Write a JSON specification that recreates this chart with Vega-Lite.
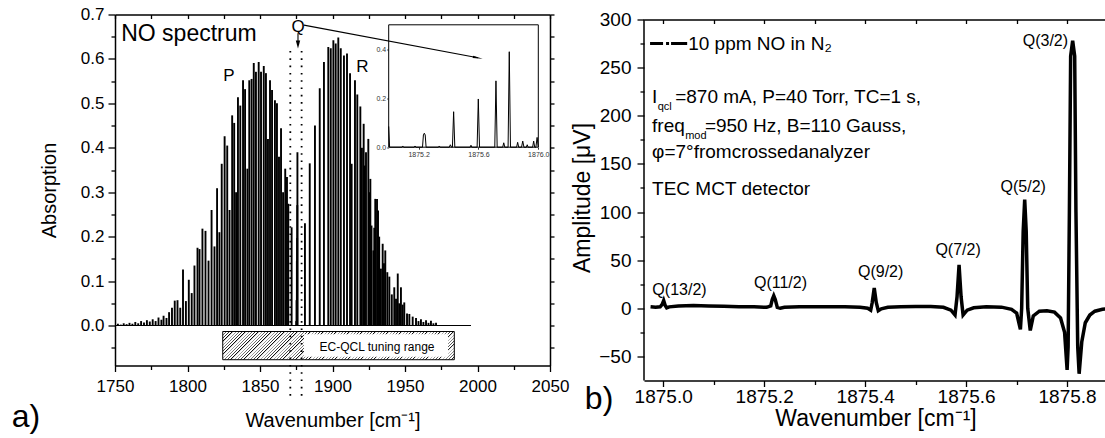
{
"$schema": "https://vega.github.io/schema/vega-lite/v6.json",
"padding": {"left": 11, "top": 5.5, "right": 0, "bottom": 0},
"spacing": 2,
"config": {
  "font": "Liberation Sans",
  "view": {"stroke": null},
  "axis": {"grid": false, "labelFlush": false, "domainColor": "#000", "tickColor": "#000", "labelColor": "#000", "titleColor": "#000", "domainWidth": 1.5, "tickWidth": 1.3, "labelFont": "Liberation Sans", "titleFont": "Liberation Sans", "titleFontWeight": "normal"}
},
"datasets": {
  "spectrum": [
    {"wn":1752,"abs":0.004},{"wn":1754,"abs":0.002},{"wn":1756,"abs":0.005},{"wn":1758,"abs":0.003},{"wn":1760,"abs":0.006},{"wn":1762,"abs":0.004},{"wn":1764,"abs":0.008},{"wn":1766,"abs":0.005},{"wn":1768,"abs":0.010},{"wn":1770,"abs":0.007},{"wn":1772,"abs":0.012},{"wn":1774,"abs":0.009},{"wn":1776,"abs":0.014},{"wn":1778,"abs":0.010},{"wn":1780,"abs":0.018},{"wn":1782,"abs":0.013},{"wn":1783.5,"abs":0.022},{"wn":1785.5,"abs":0.017},{"wn":1787.3,"abs":0.030},{"wn":1789.3,"abs":0.040},{"wn":1791.2,"abs":0.056},{"wn":1793.1,"abs":0.057},{"wn":1795.0,"abs":0.040},{"wn":1796.9,"abs":0.126},{"wn":1798.9,"abs":0.055},{"wn":1800.9,"abs":0.103},{"wn":1802.9,"abs":0.073},{"wn":1804.8,"abs":0.135},{"wn":1806.9,"abs":0.175},{"wn":1808.3,"abs":0.172},{"wn":1810.3,"abs":0.218},{"wn":1812.4,"abs":0.213},{"wn":1814.5,"abs":0.146},{"wn":1816.6,"abs":0.260},{"wn":1818.6,"abs":0.178},{"wn":1820.4,"abs":0.309},{"wn":1822.0,"abs":0.210},{"wn":1823.6,"abs":0.364},{"wn":1825.6,"abs":0.426},{"wn":1827.4,"abs":0.405},{"wn":1829.0,"abs":0.260},{"wn":1830.8,"abs":0.473},{"wn":1832.2,"abs":0.456},{"wn":1833.5,"abs":0.300},{"wn":1834.8,"abs":0.514},{"wn":1836.4,"abs":0.495},{"wn":1838.3,"abs":0.552},{"wn":1839.7,"abs":0.532},{"wn":1841.3,"abs":0.353},{"wn":1842.6,"abs":0.552},{"wn":1844.2,"abs":0.555},{"wn":1845.7,"abs":0.591},{"wn":1847.2,"abs":0.571},{"wn":1849.1,"abs":0.593},{"wn":1850.7,"abs":0.571},{"wn":1852.6,"abs":0.584},{"wn":1854.1,"abs":0.568},{"wn":1855.5,"abs":0.420},{"wn":1856.9,"abs":0.552},{"wn":1858.3,"abs":0.530},{"wn":1860.3,"abs":0.507},{"wn":1861.7,"abs":0.500},{"wn":1863.1,"abs":0.380},{"wn":1864.5,"abs":0.444},{"wn":1865.9,"abs":0.300},{"wn":1867.4,"abs":0.353},{"wn":1868.6,"abs":0.334},{"wn":1869.5,"abs":0.274},{"wn":1871.8,"abs":0.221},
    {"wn":1875.0,"abs":0.010},{"wn":1875.22,"abs":0.057},{"wn":1875.43,"abs":0.145},{"wn":1875.6,"abs":0.197},{"wn":1875.72,"abs":0.271},{"wn":1875.81,"abs":0.390},
    {"wn":1881.0,"abs":0.230},{"wn":1884.3,"abs":0.365},{"wn":1887.9,"abs":0.450},{"wn":1891.2,"abs":0.534},{"wn":1894.1,"abs":0.593},{"wn":1897.1,"abs":0.627},{"wn":1898.8,"abs":0.624},{"wn":1900.6,"abs":0.642},{"wn":1902.2,"abs":0.635},{"wn":1904.0,"abs":0.648},{"wn":1905.7,"abs":0.624},{"wn":1907.9,"abs":0.608},{"wn":1910.0,"abs":0.612},{"wn":1912.1,"abs":0.568},{"wn":1913.2,"abs":0.364},{"wn":1915.5,"abs":0.552},{"wn":1917.1,"abs":0.520},{"wn":1919.2,"abs":0.493},{"wn":1920.3,"abs":0.400},{"wn":1921.5,"abs":0.454},{"wn":1922.3,"abs":0.360},{"wn":1923.1,"abs":0.390},{"wn":1924.7,"abs":0.420},{"wn":1925.4,"abs":0.300},{"wn":1926.1,"abs":0.330},{"wn":1926.9,"abs":0.225},{"wn":1928.2,"abs":0.169},{"wn":1928.8,"abs":0.220},{"wn":1929.5,"abs":0.285},{"wn":1930.7,"abs":0.285},{"wn":1931.4,"abs":0.259},{"wn":1932.2,"abs":0.200},{"wn":1933.4,"abs":0.128},{"wn":1934.6,"abs":0.184},{"wn":1935.5,"abs":0.140},{"wn":1936.4,"abs":0.169},{"wn":1937.8,"abs":0.120},{"wn":1939.2,"abs":0.110},{"wn":1940.9,"abs":0.070},{"wn":1942.6,"abs":0.086},{"wn":1943.8,"abs":0.060},{"wn":1945.0,"abs":0.117},{"wn":1946.0,"abs":0.050},{"wn":1947.2,"abs":0.086},{"wn":1948.4,"abs":0.047},{"wn":1949.5,"abs":0.052},{"wn":1951.4,"abs":0.027},{"wn":1953.0,"abs":0.026},{"wn":1955.3,"abs":0.020},{"wn":1957.6,"abs":0.017},{"wn":1959.3,"abs":0.010},{"wn":1961.0,"abs":0.014},{"wn":1962.7,"abs":0.008},{"wn":1964.5,"abs":0.012},{"wn":1966.2,"abs":0.006},{"wn":1967.9,"abs":0.011},{"wn":1969.6,"abs":0.005},{"wn":1971.4,"abs":0.006}
  ],
  "inset": [
    {"wn":1875.000,"v":0.085},{"wn":1875.006,"v":0},{"wn":1875.088,"v":0},{"wn":1875.094,"v":0.005},{"wn":1875.100,"v":0},{"wn":1875.170,"v":0},{"wn":1875.176,"v":0.005},{"wn":1875.182,"v":0},{"wn":1875.226,"v":0},{"wn":1875.232,"v":0.050},{"wn":1875.238,"v":0.057},{"wn":1875.244,"v":0.050},{"wn":1875.250,"v":0},{"wn":1875.332,"v":0},{"wn":1875.338,"v":0.005},{"wn":1875.344,"v":0},{"wn":1875.405,"v":0},{"wn":1875.412,"v":0.010},{"wn":1875.420,"v":0},{"wn":1875.426,"v":0},{"wn":1875.434,"v":0.145},{"wn":1875.442,"v":0},{"wn":1875.544,"v":0},{"wn":1875.550,"v":0.008},{"wn":1875.556,"v":0},{"wn":1875.591,"v":0},{"wn":1875.599,"v":0.197},{"wn":1875.607,"v":0},{"wn":1875.709,"v":0},{"wn":1875.717,"v":0.271},{"wn":1875.725,"v":0},{"wn":1875.762,"v":0},{"wn":1875.769,"v":0.018},{"wn":1875.776,"v":0},{"wn":1875.798,"v":0},{"wn":1875.806,"v":0.390},{"wn":1875.814,"v":0},{"wn":1875.855,"v":0},{"wn":1875.862,"v":0.020},{"wn":1875.869,"v":0},{"wn":1875.888,"v":0},{"wn":1875.896,"v":0.025},{"wn":1875.904,"v":0},{"wn":1875.920,"v":0},{"wn":1875.926,"v":0.010},{"wn":1875.932,"v":0},{"wn":1875.962,"v":0},{"wn":1875.969,"v":0.025},{"wn":1875.976,"v":0},{"wn":1875.984,"v":0},{"wn":1875.992,"v":0.040},{"wn":1876.000,"v":0}
  ],
  "signal": [
    {"wn":1874.975,"amp":1.5},{"wn":1874.985,"amp":1.0},{"wn":1874.994,"amp":1.5},{"wn":1874.998,"amp":4},{"wn":1875.001,"amp":8},{"wn":1875.004,"amp":3},{"wn":1875.007,"amp":0.5},{"wn":1875.012,"amp":1.5},{"wn":1875.030,"amp":2.5},{"wn":1875.060,"amp":2.8},{"wn":1875.090,"amp":2.5},{"wn":1875.120,"amp":2.0},{"wn":1875.150,"amp":1.5},{"wn":1875.180,"amp":1.5},{"wn":1875.205,"amp":1.0},{"wn":1875.213,"amp":2.5},{"wn":1875.216,"amp":9},{"wn":1875.219,"amp":13},{"wn":1875.222,"amp":9},{"wn":1875.226,"amp":1},{"wn":1875.232,"amp":0},{"wn":1875.240,"amp":1},{"wn":1875.270,"amp":1.5},{"wn":1875.300,"amp":1.5},{"wn":1875.330,"amp":1.5},{"wn":1875.360,"amp":1.5},{"wn":1875.390,"amp":1.0},{"wn":1875.405,"amp":0},{"wn":1875.411,"amp":-2},{"wn":1875.414,"amp":6},{"wn":1875.418,"amp":21},{"wn":1875.422,"amp":6},{"wn":1875.426,"amp":-2.5},{"wn":1875.432,"amp":-0.5},{"wn":1875.445,"amp":1},{"wn":1875.470,"amp":1.5},{"wn":1875.500,"amp":1.8},{"wn":1875.530,"amp":1.8},{"wn":1875.555,"amp":1},{"wn":1875.570,"amp":-2},{"wn":1875.578,"amp":-7},{"wn":1875.582,"amp":12},{"wn":1875.586,"amp":45},{"wn":1875.590,"amp":12},{"wn":1875.594,"amp":-7},{"wn":1875.602,"amp":-2},{"wn":1875.615,"amp":0.5},{"wn":1875.640,"amp":1.5},{"wn":1875.670,"amp":1.2},{"wn":1875.690,"amp":-1},{"wn":1875.700,"amp":-5},{"wn":1875.7075,"amp":-22},{"wn":1875.710,"amp":0},{"wn":1875.713,"amp":80},{"wn":1875.716,"amp":113},{"wn":1875.719,"amp":80},{"wn":1875.722,"amp":0},{"wn":1875.727,"amp":-23},{"wn":1875.733,"amp":-8},{"wn":1875.745,"amp":-3},{"wn":1875.760,"amp":-2.5},{"wn":1875.775,"amp":-4},{"wn":1875.787,"amp":-10},{"wn":1875.795,"amp":-25},{"wn":1875.800,"amp":-64},{"wn":1875.802,"amp":-40},{"wn":1875.8045,"amp":100},{"wn":1875.807,"amp":262},{"wn":1875.811,"amp":278},{"wn":1875.815,"amp":262},{"wn":1875.8175,"amp":100},{"wn":1875.821,"amp":-40},{"wn":1875.8238,"amp":-68},{"wn":1875.829,"amp":-35},{"wn":1875.836,"amp":-15},{"wn":1875.845,"amp":-7},{"wn":1875.855,"amp":-3},{"wn":1875.870,"amp":-1},{"wn":1875.879,"amp":-0.5}
  ]
},
"hconcat": [
{
  "width": 435, "height": 351,
  "resolve": {"scale": {"x": "independent", "y": "independent"}},
  "layer": [
    {"data": {"name": "spectrum"}, "mark": {"type": "rule", "color": "#000", "strokeWidth": 1.9},
     "encoding": {
       "x": {"field": "wn", "type": "quantitative", "scale": {"domain": [1750, 2050], "nice": false, "zero": false},
             "axis": {"orient": "bottom", "values": [1750,1800,1850,1900,1950,2000,2050], "format": "d", "tickSize": 6, "labelFontSize": 17, "labelPadding": 7, "title": "Wavenumber [cm⁻¹]", "titleFontSize": 20, "titlePadding": 16}},
       "y": {"field": "abs", "type": "quantitative", "scale": {"domain": [-0.09, 0.7], "nice": false, "zero": false},
             "axis": {"orient": "left", "values": [0,0.1,0.2,0.3,0.4,0.5,0.6,0.7], "format": ".1f", "tickSize": 7, "labelFontSize": 17, "labelPadding": 4, "title": "Absorption", "titleFontSize": 20, "titlePadding": 21}},
       "y2": {"datum": 0}
     }},
    {"data": {"values": [{"x1": 1750, "x2": 1995.5, "y": 0}]}, "mark": {"type": "rule", "color": "#000", "strokeWidth": 1.2},
     "encoding": {
       "x": {"field": "x1", "type": "quantitative", "scale": {"domain": [1750, 2050], "nice": false, "zero": false},
             "axis": {"orient": "top", "values": [1750,1775,1800,1825,1850,1875,1900,1925,1950,1975,2000,2025,2050], "tickSize": -4, "labels": false, "title": null}},
       "x2": {"field": "x2"},
       "y": {"field": "y", "type": "quantitative", "scale": {"domain": [-0.09, 0.7], "nice": false, "zero": false},
             "axis": {"orient": "right", "values": [-0.05,0,0.05,0.1,0.15,0.2,0.25,0.3,0.35,0.4,0.45,0.5,0.55,0.6,0.65,0.7], "tickSize": 4, "labels": false, "title": null}}
     }},
    {"data": {"values": [{"x": 1800, "y": 0}]}, "mark": {"type": "point", "opacity": 0},
     "encoding": {
       "x": {"field": "x", "type": "quantitative", "scale": {"domain": [1750, 2050], "nice": false, "zero": false},
             "axis": {"orient": "bottom", "values": [1775,1825,1875,1925,1975,2025], "tickSize": 4, "labels": false, "domain": false, "title": null}},
       "y": {"field": "y", "type": "quantitative", "scale": {"domain": [-0.09, 0.7], "nice": false, "zero": false},
             "axis": {"orient": "left", "values": [-0.05,0.05,0.15,0.25,0.35,0.45,0.55,0.65], "tickSize": 4, "labels": false, "domain": false, "title": null}}
     }},
    {"data": {"values": [{"x1": 1824.3, "x2": 1984, "y1": -0.0135, "y2": -0.077}]},
     "mark": {"type": "rect", "stroke": "#000", "strokeWidth": 1,
       "fill": {"gradient": "linear", "x1": 0, "y1": 0, "x2": 1.1057, "y2": 0.1351, "stops": [
{"offset":0,"color":"#000"},{"offset":0.005,"color":"#fff"},{"offset":0.0125,"color":"#fff"},
{"offset":0.0125,"color":"#000"},{"offset":0.0175,"color":"#fff"},{"offset":0.025,"color":"#fff"},
{"offset":0.025,"color":"#000"},{"offset":0.03,"color":"#fff"},{"offset":0.0375,"color":"#fff"},
{"offset":0.0375,"color":"#000"},{"offset":0.0425,"color":"#fff"},{"offset":0.05,"color":"#fff"},
{"offset":0.05,"color":"#000"},{"offset":0.055,"color":"#fff"},{"offset":0.0625,"color":"#fff"},
{"offset":0.0625,"color":"#000"},{"offset":0.0675,"color":"#fff"},{"offset":0.075,"color":"#fff"},
{"offset":0.075,"color":"#000"},{"offset":0.08,"color":"#fff"},{"offset":0.0875,"color":"#fff"},
{"offset":0.0875,"color":"#000"},{"offset":0.0925,"color":"#fff"},{"offset":0.1,"color":"#fff"},
{"offset":0.1,"color":"#000"},{"offset":0.105,"color":"#fff"},{"offset":0.1125,"color":"#fff"},
{"offset":0.1125,"color":"#000"},{"offset":0.1175,"color":"#fff"},{"offset":0.125,"color":"#fff"},
{"offset":0.125,"color":"#000"},{"offset":0.13,"color":"#fff"},{"offset":0.1375,"color":"#fff"},
{"offset":0.1375,"color":"#000"},{"offset":0.1425,"color":"#fff"},{"offset":0.15,"color":"#fff"},
{"offset":0.15,"color":"#000"},{"offset":0.155,"color":"#fff"},{"offset":0.1625,"color":"#fff"},
{"offset":0.1625,"color":"#000"},{"offset":0.1675,"color":"#fff"},{"offset":0.175,"color":"#fff"},
{"offset":0.175,"color":"#000"},{"offset":0.18,"color":"#fff"},{"offset":0.1875,"color":"#fff"},
{"offset":0.1875,"color":"#000"},{"offset":0.1925,"color":"#fff"},{"offset":0.2,"color":"#fff"},
{"offset":0.2,"color":"#000"},{"offset":0.205,"color":"#fff"},{"offset":0.2125,"color":"#fff"},
{"offset":0.2125,"color":"#000"},{"offset":0.2175,"color":"#fff"},{"offset":0.225,"color":"#fff"},
{"offset":0.225,"color":"#000"},{"offset":0.23,"color":"#fff"},{"offset":0.2375,"color":"#fff"},
{"offset":0.2375,"color":"#000"},{"offset":0.2425,"color":"#fff"},{"offset":0.25,"color":"#fff"},
{"offset":0.25,"color":"#000"},{"offset":0.255,"color":"#fff"},{"offset":0.2625,"color":"#fff"},
{"offset":0.2625,"color":"#000"},{"offset":0.2675,"color":"#fff"},{"offset":0.275,"color":"#fff"},
{"offset":0.275,"color":"#000"},{"offset":0.28,"color":"#fff"},{"offset":0.2875,"color":"#fff"},
{"offset":0.2875,"color":"#000"},{"offset":0.2925,"color":"#fff"},{"offset":0.3,"color":"#fff"},
{"offset":0.3,"color":"#000"},{"offset":0.305,"color":"#fff"},{"offset":0.3125,"color":"#fff"},
{"offset":0.3125,"color":"#000"},{"offset":0.3175,"color":"#fff"},{"offset":0.325,"color":"#fff"},
{"offset":0.325,"color":"#000"},{"offset":0.33,"color":"#fff"},{"offset":0.3375,"color":"#fff"},
{"offset":0.3375,"color":"#000"},{"offset":0.3425,"color":"#fff"},{"offset":0.35,"color":"#fff"},
{"offset":0.35,"color":"#000"},{"offset":0.355,"color":"#fff"},{"offset":0.3625,"color":"#fff"},
{"offset":0.3625,"color":"#000"},{"offset":0.3675,"color":"#fff"},{"offset":0.375,"color":"#fff"},
{"offset":0.375,"color":"#000"},{"offset":0.38,"color":"#fff"},{"offset":0.3875,"color":"#fff"},
{"offset":0.3875,"color":"#000"},{"offset":0.3925,"color":"#fff"},{"offset":0.4,"color":"#fff"},
{"offset":0.4,"color":"#000"},{"offset":0.405,"color":"#fff"},{"offset":0.4125,"color":"#fff"},
{"offset":0.4125,"color":"#000"},{"offset":0.4175,"color":"#fff"},{"offset":0.425,"color":"#fff"},
{"offset":0.425,"color":"#000"},{"offset":0.43,"color":"#fff"},{"offset":0.4375,"color":"#fff"},
{"offset":0.4375,"color":"#000"},{"offset":0.4425,"color":"#fff"},{"offset":0.45,"color":"#fff"},
{"offset":0.45,"color":"#000"},{"offset":0.455,"color":"#fff"},{"offset":0.4625,"color":"#fff"},
{"offset":0.4625,"color":"#000"},{"offset":0.4675,"color":"#fff"},{"offset":0.475,"color":"#fff"},
{"offset":0.475,"color":"#000"},{"offset":0.48,"color":"#fff"},{"offset":0.4875,"color":"#fff"},
{"offset":0.4875,"color":"#000"},{"offset":0.4925,"color":"#fff"},{"offset":0.5,"color":"#fff"},
{"offset":0.5,"color":"#000"},{"offset":0.505,"color":"#fff"},{"offset":0.5125,"color":"#fff"},
{"offset":0.5125,"color":"#000"},{"offset":0.5175,"color":"#fff"},{"offset":0.525,"color":"#fff"},
{"offset":0.525,"color":"#000"},{"offset":0.53,"color":"#fff"},{"offset":0.5375,"color":"#fff"},
{"offset":0.5375,"color":"#000"},{"offset":0.5425,"color":"#fff"},{"offset":0.55,"color":"#fff"},
{"offset":0.55,"color":"#000"},{"offset":0.555,"color":"#fff"},{"offset":0.5625,"color":"#fff"},
{"offset":0.5625,"color":"#000"},{"offset":0.5675,"color":"#fff"},{"offset":0.575,"color":"#fff"},
{"offset":0.575,"color":"#000"},{"offset":0.58,"color":"#fff"},{"offset":0.5875,"color":"#fff"},
{"offset":0.5875,"color":"#000"},{"offset":0.5925,"color":"#fff"},{"offset":0.6,"color":"#fff"},
{"offset":0.6,"color":"#000"},{"offset":0.605,"color":"#fff"},{"offset":0.6125,"color":"#fff"},
{"offset":0.6125,"color":"#000"},{"offset":0.6175,"color":"#fff"},{"offset":0.625,"color":"#fff"},
{"offset":0.625,"color":"#000"},{"offset":0.63,"color":"#fff"},{"offset":0.6375,"color":"#fff"},
{"offset":0.6375,"color":"#000"},{"offset":0.6425,"color":"#fff"},{"offset":0.65,"color":"#fff"},
{"offset":0.65,"color":"#000"},{"offset":0.655,"color":"#fff"},{"offset":0.6625,"color":"#fff"},
{"offset":0.6625,"color":"#000"},{"offset":0.6675,"color":"#fff"},{"offset":0.675,"color":"#fff"},
{"offset":0.675,"color":"#000"},{"offset":0.68,"color":"#fff"},{"offset":0.6875,"color":"#fff"},
{"offset":0.6875,"color":"#000"},{"offset":0.6925,"color":"#fff"},{"offset":0.7,"color":"#fff"},
{"offset":0.7,"color":"#000"},{"offset":0.705,"color":"#fff"},{"offset":0.7125,"color":"#fff"},
{"offset":0.7125,"color":"#000"},{"offset":0.7175,"color":"#fff"},{"offset":0.725,"color":"#fff"},
{"offset":0.725,"color":"#000"},{"offset":0.73,"color":"#fff"},{"offset":0.7375,"color":"#fff"},
{"offset":0.7375,"color":"#000"},{"offset":0.7425,"color":"#fff"},{"offset":0.75,"color":"#fff"},
{"offset":0.75,"color":"#000"},{"offset":0.755,"color":"#fff"},{"offset":0.7625,"color":"#fff"},
{"offset":0.7625,"color":"#000"},{"offset":0.7675,"color":"#fff"},{"offset":0.775,"color":"#fff"},
{"offset":0.775,"color":"#000"},{"offset":0.78,"color":"#fff"},{"offset":0.7875,"color":"#fff"},
{"offset":0.7875,"color":"#000"},{"offset":0.7925,"color":"#fff"},{"offset":0.8,"color":"#fff"},
{"offset":0.8,"color":"#000"},{"offset":0.805,"color":"#fff"},{"offset":0.8125,"color":"#fff"},
{"offset":0.8125,"color":"#000"},{"offset":0.8175,"color":"#fff"},{"offset":0.825,"color":"#fff"},
{"offset":0.825,"color":"#000"},{"offset":0.83,"color":"#fff"},{"offset":0.8375,"color":"#fff"},
{"offset":0.8375,"color":"#000"},{"offset":0.8425,"color":"#fff"},{"offset":0.85,"color":"#fff"},
{"offset":0.85,"color":"#000"},{"offset":0.855,"color":"#fff"},{"offset":0.8625,"color":"#fff"},
{"offset":0.8625,"color":"#000"},{"offset":0.8675,"color":"#fff"},{"offset":0.875,"color":"#fff"},
{"offset":0.875,"color":"#000"},{"offset":0.88,"color":"#fff"},{"offset":0.8875,"color":"#fff"},
{"offset":0.8875,"color":"#000"},{"offset":0.8925,"color":"#fff"},{"offset":0.9,"color":"#fff"},
{"offset":0.9,"color":"#000"},{"offset":0.905,"color":"#fff"},{"offset":0.9125,"color":"#fff"},
{"offset":0.9125,"color":"#000"},{"offset":0.9175,"color":"#fff"},{"offset":0.925,"color":"#fff"},
{"offset":0.925,"color":"#000"},{"offset":0.93,"color":"#fff"},{"offset":0.9375,"color":"#fff"},
{"offset":0.9375,"color":"#000"},{"offset":0.9425,"color":"#fff"},{"offset":0.95,"color":"#fff"},
{"offset":0.95,"color":"#000"},{"offset":0.955,"color":"#fff"},{"offset":0.9625,"color":"#fff"},
{"offset":0.9625,"color":"#000"},{"offset":0.9675,"color":"#fff"},{"offset":0.975,"color":"#fff"},
{"offset":0.975,"color":"#000"},{"offset":0.98,"color":"#fff"},{"offset":0.9875,"color":"#fff"},
{"offset":0.9875,"color":"#000"},{"offset":0.9925,"color":"#fff"},{"offset":1,"color":"#fff"}
       ]}},
     "encoding": {
       "x": {"field": "x1", "type": "quantitative", "scale": {"domain": [1750, 2050], "nice": false, "zero": false}, "axis": null},
       "x2": {"field": "x2"},
       "y": {"field": "y1", "type": "quantitative", "scale": {"domain": [-0.09, 0.7], "nice": false, "zero": false}, "axis": null},
       "y2": {"field": "y2"}
     }},
    {"data": {"values": [{"x1": 1880.3, "x2": 1979.7, "y1": -0.0195, "y2": -0.0705}]},
     "mark": {"type": "rect", "fill": "#fff", "strokeWidth": 0},
     "encoding": {
       "x": {"field": "x1", "type": "quantitative", "scale": {"domain": [1750, 2050], "nice": false, "zero": false}, "axis": null},
       "x2": {"field": "x2"},
       "y": {"field": "y1", "type": "quantitative", "scale": {"domain": [-0.09, 0.7], "nice": false, "zero": false}, "axis": null},
       "y2": {"field": "y2"}
     }},
    {"data": {"values": [{"x": 1930.7, "y": -0.048, "t": "EC-QCL tuning range"}]},
     "mark": {"type": "text", "fontSize": 12, "color": "#000", "align": "center", "baseline": "middle"},
     "encoding": {
       "x": {"field": "x", "type": "quantitative", "scale": {"domain": [1750, 2050], "nice": false, "zero": false}, "axis": null},
       "y": {"field": "y", "type": "quantitative", "scale": {"domain": [-0.09, 0.7], "nice": false, "zero": false}, "axis": null},
       "text": {"field": "t"}
     }},
    {"data": {"values": [{"x": 1870.9, "y1": -0.158, "y2": 0.62}, {"x": 1878.7, "y1": -0.158, "y2": 0.62}]},
     "mark": {"type": "rule", "color": "#000", "strokeWidth": 1.8, "strokeDash": [1.6, 5.7]},
     "encoding": {
       "x": {"field": "x", "type": "quantitative", "scale": {"domain": [1750, 2050], "nice": false, "zero": false}, "axis": null},
       "y": {"field": "y1", "type": "quantitative", "scale": {"domain": [-0.09, 0.7], "nice": false, "zero": false}, "axis": null},
       "y2": {"field": "y2"}
     }},
    {"data": {"values": [{"x": 1801.0, "y": 0.6565, "t": "NO spectrum"}]},
     "mark": {"type": "text", "fontSize": 23, "color": "#000", "align": "center", "baseline": "middle"},
     "encoding": {
       "x": {"field": "x", "type": "quantitative", "scale": {"domain": [1750, 2050], "nice": false, "zero": false}, "axis": null},
       "y": {"field": "y", "type": "quantitative", "scale": {"domain": [-0.09, 0.7], "nice": false, "zero": false}, "axis": null},
       "text": {"field": "t"}
     }},
    {"data": {"values": [{"x": 1828.6, "y": 0.562, "t": "P"}, {"x": 1920.7, "y": 0.581, "t": "R"}, {"x": 1876.2, "y": 0.672, "t": "Q"}]},
     "mark": {"type": "text", "fontSize": 17, "color": "#000", "align": "center", "baseline": "middle"},
     "encoding": {
       "x": {"field": "x", "type": "quantitative", "scale": {"domain": [1750, 2050], "nice": false, "zero": false}, "axis": null},
       "y": {"field": "y", "type": "quantitative", "scale": {"domain": [-0.09, 0.7], "nice": false, "zero": false}, "axis": null},
       "text": {"field": "t"}
     }},
    {"data": {"values": [{"x": 1688.6, "y": -0.207, "t": "a)"}]},
     "mark": {"type": "text", "fontSize": 32, "color": "#000", "align": "center", "baseline": "middle"},
     "encoding": {
       "x": {"field": "x", "type": "quantitative", "scale": {"domain": [1750, 2050], "nice": false, "zero": false}, "axis": null},
       "y": {"field": "y", "type": "quantitative", "scale": {"domain": [-0.09, 0.7], "nice": false, "zero": false}, "axis": null},
       "text": {"field": "t"}
     }},
    {"layer": [
      {"data": {"values": [{"x1": 1875, "x2": 1876, "y1": 0, "y2": 0.5}]},
       "mark": {"type": "rect", "fill": "#fff", "stroke": "#000", "strokeWidth": 1},
       "encoding": {
         "x": {"field": "x1", "type": "quantitative", "scale": {"domain": [1875, 1876], "range": [273.7, 423.3], "nice": false, "zero": false},
               "axis": {"orient": "bottom", "offset": -218.3, "values": [1875.2, 1875.6, 1876.0], "format": ".1f", "labelFontSize": 7, "labelPadding": 1, "tickSize": 2, "tickWidth": 0.8, "domain": false, "title": null, "labelColor": "#333"}},
         "x2": {"field": "x2"},
         "y": {"field": "y1", "type": "quantitative", "scale": {"domain": [0, 0.5], "range": [132.7, 10.3], "nice": false, "zero": false},
               "axis": {"orient": "left", "offset": -273.7, "values": [0, 0.2, 0.4], "format": ".1f", "labelFontSize": 7, "labelPadding": 1, "tickSize": 2, "tickWidth": 0.8, "domain": false, "title": null, "labelColor": "#333"}},
         "y2": {"field": "y2"}
       }},
      {"data": {"name": "inset"}, "mark": {"type": "line", "color": "#000", "strokeWidth": 1},
       "encoding": {
         "x": {"field": "wn", "type": "quantitative"},
         "y": {"field": "v", "type": "quantitative"}
       }}
    ]},
    {"data": {"values": [{"id": "a", "x": 1880.3, "y": 0.676}, {"id": "a", "x": 2000.2, "y": 0.6027}, {"id": "b", "x": 1876.2, "y": 0.6577}, {"id": "b", "x": 1876.2, "y": 0.6374}]},
     "mark": {"type": "line", "color": "#000", "strokeWidth": 1.1},
     "encoding": {
       "x": {"field": "x", "type": "quantitative", "scale": {"domain": [1750, 2050], "nice": false, "zero": false}, "axis": null},
       "y": {"field": "y", "type": "quantitative", "scale": {"domain": [-0.09, 0.7], "nice": false, "zero": false}, "axis": null},
       "detail": {"field": "id"}
     }},
    {"data": {"values": [{"x": 2000.2, "y": 0.6027}]},
     "mark": {"type": "point", "shape": "M-1,-0.22L1,0L-1,0.22Z", "size": 100, "angle": 10.5, "filled": true, "color": "#000", "opacity": 1},
     "encoding": {
       "x": {"field": "x", "type": "quantitative", "scale": {"domain": [1750, 2050], "nice": false, "zero": false}, "axis": null},
       "y": {"field": "y", "type": "quantitative", "scale": {"domain": [-0.09, 0.7], "nice": false, "zero": false}, "axis": null}
     }},
    {"data": {"values": [{"x": 1876.2, "y": 0.6322}]},
     "mark": {"type": "point", "shape": "M-0.55,-1L0.55,-1L0,1Z", "size": 64, "filled": true, "color": "#000", "opacity": 1},
     "encoding": {
       "x": {"field": "x", "type": "quantitative", "scale": {"domain": [1750, 2050], "nice": false, "zero": false}, "axis": null},
       "y": {"field": "y", "type": "quantitative", "scale": {"domain": [-0.09, 0.7], "nice": false, "zero": false}, "axis": null}
     }}
  ]
},
{
  "width": 463, "height": 366,
  "resolve": {"scale": {"x": "independent", "y": "independent"}},
  "layer": [
    {"data": {"name": "signal"}, "mark": {"type": "line", "color": "#000", "strokeWidth": 3.5},
     "encoding": {
       "x": {"field": "wn", "type": "quantitative", "scale": {"domain": [1874.962, 1875.879], "nice": false, "zero": false},
             "axis": {"orient": "bottom", "values": [1875.0, 1875.2, 1875.4, 1875.6, 1875.8], "format": ".1f", "tickSize": 6, "labelFontSize": 19, "labelPadding": 1, "title": "Wavenumber [cm⁻¹]", "titleFontSize": 23, "titlePadding": 1}},
       "y": {"field": "amp", "type": "quantitative", "scale": {"domain": [-75, 305.19], "nice": false, "zero": false},
             "axis": {"orient": "left", "domain": false, "values": [-50, 0, 50, 100, 150, 200, 250, 300], "format": "d", "tickSize": 7, "labelFontSize": 19, "labelPadding": 6, "title": "Amplitude [μV]", "titleFontSize": 23, "titlePadding": 4}}
     }},
    {"data": {"values": [{"x": 1874.962, "y1": -75, "y2": 300}]},
     "mark": {"type": "rule", "color": "#000", "strokeWidth": 1.5},
     "encoding": {
       "x": {"field": "x", "type": "quantitative", "scale": {"domain": [1874.962, 1875.879], "nice": false, "zero": false}, "axis": null},
       "y": {"field": "y1", "type": "quantitative", "scale": {"domain": [-75, 305.19], "nice": false, "zero": false}, "axis": null},
       "y2": {"field": "y2"}
     }},
    {"data": {"values": [{"x": 1875.4, "y": 0}]}, "mark": {"type": "point", "opacity": 0},
     "encoding": {
       "x": {"field": "x", "type": "quantitative", "scale": {"domain": [1874.962, 1875.879], "nice": false, "zero": false},
             "axis": {"orient": "top", "offset": -5, "values": [1875.0, 1875.1, 1875.2, 1875.3, 1875.4, 1875.5, 1875.6, 1875.7, 1875.8], "tickSize": -4, "labels": false, "title": null}},
       "y": {"field": "y", "type": "quantitative", "scale": {"domain": [-75, 305.19], "nice": false, "zero": false},
             "axis": {"orient": "left", "values": [-25, 25, 75, 125, 175, 225, 275], "tickSize": 4, "labels": false, "domain": false, "title": null}}
     }},
    {"data": {"values": [{"x": 1875.4, "y": 0}]}, "mark": {"type": "point", "opacity": 0},
     "encoding": {
       "x": {"field": "x", "type": "quantitative", "scale": {"domain": [1874.962, 1875.879], "nice": false, "zero": false},
             "axis": {"orient": "bottom", "values": [1875.1, 1875.3, 1875.5, 1875.7], "tickSize": 4, "labels": false, "domain": false, "title": null}},
       "y": {"field": "y", "type": "quantitative", "scale": {"domain": [-75, 305.19], "nice": false, "zero": false}, "axis": null}
     }},
    {"data": {"values": [{"x1": 1874.974, "x2": 1875.0475, "y": 275}]},
     "mark": {"type": "rule", "color": "#000", "strokeWidth": 3, "strokeDash": [13, 3, 3, 2, 17]},
     "encoding": {
       "x": {"field": "x1", "type": "quantitative", "scale": {"domain": [1874.962, 1875.879], "nice": false, "zero": false}, "axis": null},
       "x2": {"field": "x2"},
       "y": {"field": "y", "type": "quantitative", "scale": {"domain": [-75, 305.19], "nice": false, "zero": false}, "axis": null}
     }},
    {"data": {"values": [
       {"x": 1875.0495, "y": 275, "t": "10 ppm NO in N₂"},
       {"x": 1874.978, "y": 219, "t": "I"},
       {"x": 1875.0238, "y": 219, "t": "=870 mA, P=40 Torr, TC=1 s,"},
       {"x": 1874.978, "y": 189.6, "t": "freq"},
       {"x": 1875.0826, "y": 189.6, "t": "=950 Hz, B=110 Gauss,"},
       {"x": 1874.978, "y": 162, "t": "φ=7°fromcrossedanalyzer"},
       {"x": 1874.978, "y": 124, "t": "TEC MCT detector"}
     ]},
     "mark": {"type": "text", "fontSize": 19, "color": "#000", "align": "left", "baseline": "middle"},
     "encoding": {
       "x": {"field": "x", "type": "quantitative", "scale": {"domain": [1874.962, 1875.879], "nice": false, "zero": false}, "axis": null},
       "y": {"field": "y", "type": "quantitative", "scale": {"domain": [-75, 305.19], "nice": false, "zero": false}, "axis": null},
       "text": {"field": "t"}
     }},
    {"data": {"values": [{"x": 1874.989, "y": 209.3, "t": "qcl"}, {"x": 1875.0436, "y": 179.3, "t": "mod"}]},
     "mark": {"type": "text", "fontSize": 11, "color": "#000", "align": "left", "baseline": "middle"},
     "encoding": {
       "x": {"field": "x", "type": "quantitative", "scale": {"domain": [1874.962, 1875.879], "nice": false, "zero": false}, "axis": null},
       "y": {"field": "y", "type": "quantitative", "scale": {"domain": [-75, 305.19], "nice": false, "zero": false}, "axis": null},
       "text": {"field": "t"}
     }},
    {"data": {"values": [
       {"x": 1875.0323, "y": 18.7, "t": "Q(13/2)"},
       {"x": 1875.2323, "y": 26.3, "t": "Q(11/2)"},
       {"x": 1875.4307, "y": 37.7, "t": "Q(9/2)"},
       {"x": 1875.584, "y": 60.2, "t": "Q(7/2)"},
       {"x": 1875.713, "y": 126, "t": "Q(5/2)"},
       {"x": 1875.757, "y": 277.5, "t": "Q(3/2)"}
     ]},
     "mark": {"type": "text", "fontSize": 16, "color": "#000", "align": "center", "baseline": "middle"},
     "encoding": {
       "x": {"field": "x", "type": "quantitative", "scale": {"domain": [1874.962, 1875.879], "nice": false, "zero": false}, "axis": null},
       "y": {"field": "y", "type": "quantitative", "scale": {"domain": [-75, 305.19], "nice": false, "zero": false}, "axis": null},
       "text": {"field": "t"}
     }},
    {"data": {"values": [{"x": 1874.873, "y": -94.5, "t": "b)"}]},
     "mark": {"type": "text", "fontSize": 32, "color": "#000", "align": "center", "baseline": "middle"},
     "encoding": {
       "x": {"field": "x", "type": "quantitative", "scale": {"domain": [1874.962, 1875.879], "nice": false, "zero": false}, "axis": null},
       "y": {"field": "y", "type": "quantitative", "scale": {"domain": [-75, 305.19], "nice": false, "zero": false}, "axis": null},
       "text": {"field": "t"}
     }}
  ]
}
]
}
